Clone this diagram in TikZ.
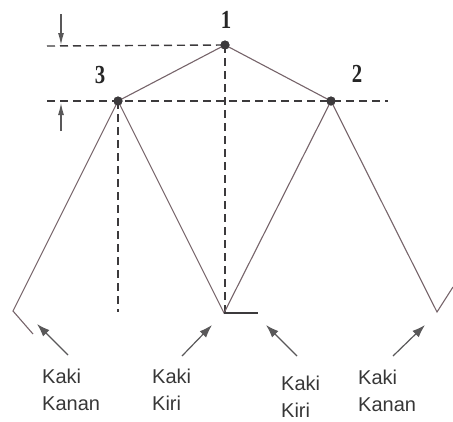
\documentclass[tikz,border=0pt]{standalone}
\usepackage{fontspec}
\setmainfont{Liberation Sans}
\newfontfamily\numfont{Liberation Serif}
\usetikzlibrary{arrows.meta}
\definecolor{legcol}{RGB}{118,100,106}
\definecolor{dashcol}{RGB}{60,58,60}
\definecolor{txtcol}{RGB}{55,55,55}
\begin{document}
\begin{tikzpicture}[x=1pt,y=-1pt,
  leg/.style={draw=legcol,line width=1.1pt},
  guide/.style={draw=dashcol,line width=1.4pt,dash pattern=on 8pt off 5pt},
  dot/.style={circle,fill=dashcol,inner sep=0pt,minimum size=9pt},
  num/.style={font=\numfont\bfseries\fontsize{26}{26}\selectfont,text=black!85,inner sep=0pt,xscale=0.8},
  lbl/.style={font=\fontsize{20}{27}\selectfont,text=txtcol,align=left,anchor=north west,inner sep=0pt},
  pointer/.style={draw=dashcol!85,line width=1.2pt,-{Latex[length=13pt,width=9pt]}}]
\useasboundingbox (0,0) rectangle (453,421);
% points
\node[dot] (p1) at (225,45) {};
\node[dot] (p3) at (118,101) {};
\node[dot] (p2) at (331,101) {};
\coordinate (L1) at (13,311);
\coordinate (L2) at (33,334);
\coordinate (B) at (224,313);
\coordinate (Bh) at (258,313);
\coordinate (R1) at (437,312);
\coordinate (R2) at (453,287);
% guides
\coordinate (g1a) at (47,46);
\coordinate (g2a) at (47,101);
\coordinate (g2b) at (388,101);
\coordinate (v1) at (225,312);
\coordinate (v3) at (118,312);
\draw[guide] (g1a) -- (p1.center);
\draw[guide] (g2a) -- (g2b);
\draw[guide] (p1.center) -- (v1);
\draw[guide] (p3.center) -- (v3);
% legs
\draw[leg] (L2) -- (L1) -- (p3.center) -- (p1.center) -- (p2.center) -- (R1) -- (R2);
\draw[leg] (p3.center) -- (B) -- (p2.center);
\draw[guide,dash pattern=on 30pt off 0pt] (B) -- (Bh);
\node[dot] at (p1) {};
\node[dot] at (p3) {};
\node[dot] at (p2) {};
% numbers
\node[num] (n1) at (226,20) {1};
\node[num] (n3) at (100,75) {3};
\node[num] (n2) at (357,74) {2};
% offset arrows
\coordinate (a1s) at (61,14);
\coordinate (a1e) at (61,45);
\coordinate (a2s) at (61,131);
\coordinate (a2e) at (61,103);
\draw[pointer,-{Latex[length=12pt,width=6pt]}] (a1s) -- (a1e);
\draw[pointer,-{Latex[length=12pt,width=6pt]}] (a2s) -- (a2e);
% labels
\node[lbl] (t1) at (42,369) {Kaki\\Kanan};
\node[lbl] (t2) at (152,369) {Kaki\\Kiri};
\node[lbl] (t3) at (281,376) {Kaki\\Kiri};
\node[lbl] (t4) at (358,370) {Kaki\\Kanan};
\coordinate (e1) at (37,324);
\coordinate (e2) at (212,325);
\coordinate (e3) at (266,325);
\coordinate (e4) at (425,325);
\draw[pointer] (68,355) coordinate (s1) -- (e1);
\draw[pointer] (182,356) coordinate (s2) -- (e2);
\draw[pointer] (297,356) coordinate (s3) -- (e3);
\draw[pointer] (393,356) coordinate (s4) -- (e4);
\end{tikzpicture}
\end{document}
